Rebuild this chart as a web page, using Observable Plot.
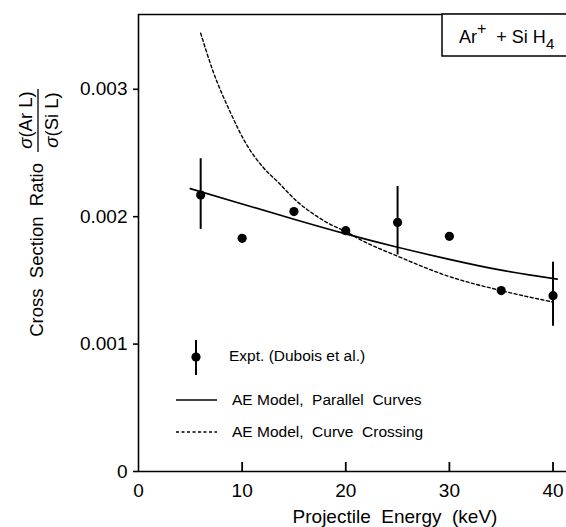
<!DOCTYPE html>
<html>
<head>
<meta charset="utf-8">
<script src="https://cdn.jsdelivr.net/npm/d3@7"></script>
<script src="https://cdn.jsdelivr.net/npm/@observablehq/plot@0.6"></script>
<style>
  html, body { margin: 0; padding: 0; background: white; }
  svg { display: block; }
</style>
</head>
<body>
<div id="chart"></div>
<script>
// Experimental points (Dubois et al.)
const exptEnergy = [6, 10, 15, 20, 25, 30, 35, 40];
const exptRatio  = [0.00217, 0.00183, 0.00204, 0.00189, 0.001955, 0.001846, 0.00142, 0.00138];
// Error bars (only some points)
const errEnergy = [6, 25, 40];
const errLow    = [0.00190, 0.00170, 0.00114];
const errHigh   = [0.002455, 0.002237, 0.001643];
// AE Model, Parallel Curves (solid)
const parEnergy = [5, 10, 15, 20, 25, 30, 35, 40.4];
const parRatio  = [0.00222, 0.00210, 0.00198, 0.001865, 0.00176, 0.001665, 0.00158, 0.00151];
// AE Model, Curve Crossing (dashed)
const crossEnergy = [6, 7.2, 8.8, 10.4, 12, 13.6, 15.3, 16.9, 18.5, 20.1, 21.4, 25, 30, 35, 40];
const crossRatio  = [0.00344, 0.00314, 0.00283, 0.00257, 0.00239, 0.00226, 0.00212, 0.00202, 0.00194, 0.00188, 0.00182, 0.00169, 0.00153, 0.00142, 0.00133];
// Axes
const xTicks = [0, 10, 20, 30, 40];
const yTicks = [0, 0.001, 0.002, 0.003];
const xDomain = [0, 41.3];
const yDomain = [0, 0.003587];
// Texts
const xLabel = "Projectile  Energy  (keV)";
const yLabel = "Cross  Section  Ratio";
const fracNum = ["σ", "(Ar L)"];
const fracDen = ["σ", "(Si L)"];
const legendLabels = ["Expt. (Dubois et al.)", "AE Model,  Parallel  Curves", "AE Model,  Curve  Crossing"];

const expt = exptEnergy.map((x, i) => ({x, y: exptRatio[i]}));
const errs = errEnergy.map((x, i) => ({x, lo: errLow[i], hi: errHigh[i]}));
const par = parEnergy.map((x, i) => ({x, y: parRatio[i]}));
const cross = crossEnergy.map((x, i) => ({x, y: crossRatio[i]}));

const font = "'Liberation Sans', Arial, Helvetica, sans-serif";

const W = 566, H = 527, mT = 14, mB = 56;
// inward x-tick length: 9 px expressed in y units
const tickLen = 9 * (yDomain[1] - yDomain[0]) / (H - mT - mB);

const chart = Plot.plot({
  width: W,
  height: H,
  marginLeft: 138,
  marginRight: 0,
  marginTop: mT,
  marginBottom: mB,
  x: {domain: xDomain},
  y: {domain: yDomain},
  style: {fontFamily: font, fontSize: "19px", color: "black", background: "white", overflow: "visible"},
  marks: [
    Plot.axisY({ticks: yTicks, tickFormat: d => d === 0 ? "0" : d.toFixed(3), tickSize: 5, tickPadding: 6, label: null, fontSize: 19, strokeWidth: 1.6}),
    Plot.axisX({ticks: xTicks, tickSize: 0, tickPadding: 12, label: null, fontSize: 19}),
    Plot.ruleX(xTicks.slice(1), {x: d => d, y1: d => yDomain[0], y2: d => yDomain[0] + tickLen, stroke: "black", strokeWidth: 1.8}),
    Plot.ruleY([yDomain[0]], {stroke: "black", strokeWidth: 1.6}),
    Plot.ruleY([yDomain[1]], {stroke: "black", strokeWidth: 1.6}),
    Plot.ruleX([xDomain[0]], {stroke: "black", strokeWidth: 1.6}),
    Plot.line(par, {x: "x", y: "y", curve: "natural", stroke: "black", strokeWidth: 1.7}),
    Plot.line(cross, {x: "x", y: "y", curve: "monotone-x", stroke: "black", strokeWidth: 1.4, strokeDasharray: "3,2.5"}),
    Plot.ruleX(errs, {x: "x", y1: "lo", y2: "hi", stroke: "black", strokeWidth: 2}),
    Plot.dot(expt, {x: "x", y: "y", r: 4.6, fill: "black", stroke: "none"})
  ]
});

document.getElementById("chart").appendChild(chart);

const svg = d3.select(chart);
const g = svg.append("g").attr("font-family", font).attr("fill", "black").attr("text-anchor", "start");

// X label
g.append("text").attr("x", 395).attr("y", 523).attr("text-anchor", "middle")
  .attr("font-size", 19).style("white-space", "pre").text(xLabel);

// Y label (rotated)
g.append("text").attr("transform", "translate(43,163) rotate(-90)")
  .attr("text-anchor", "end").attr("font-size", 18.5).style("white-space", "pre").text(yLabel);
const num = g.append("text").attr("transform", "translate(32,120) rotate(-90)")
  .attr("text-anchor", "middle").attr("font-size", 18.5);
num.append("tspan").attr("font-style", "italic").text(fracNum[0]);
num.append("tspan").text(fracNum[1]);
g.append("line").attr("x1", 38).attr("x2", 38).attr("y1", 89).attr("y2", 152)
  .attr("stroke", "black").attr("stroke-width", 1.3);
const den = g.append("text").attr("transform", "translate(58,120) rotate(-90)")
  .attr("text-anchor", "middle").attr("font-size", 18.5);
den.append("tspan").attr("font-style", "italic").text(fracDen[0]);
den.append("tspan").text(fracDen[1]);

// Reaction box
g.append("rect").attr("x", 442).attr("y", 14).attr("width", 140).attr("height", 42)
  .attr("fill", "white").attr("stroke", "black").attr("stroke-width", 1.5);
const rt = g.append("text").attr("x", 459).attr("y", 43).attr("font-size", 18).attr("text-anchor", "start");
rt.append("tspan").text("Ar");
rt.append("tspan").attr("dy", -9).attr("font-size", 16).text("+");
rt.append("tspan").attr("dy", 9).style("white-space", "pre").text("  + Si H");
rt.append("tspan").attr("dy", 6).attr("font-size", 15).text("4");

// Legend
const lg = g.append("g").attr("text-anchor", "start");
lg.append("line").attr("x1", 196).attr("x2", 196).attr("y1", 340).attr("y2", 375)
  .attr("stroke", "black").attr("stroke-width", 2);
lg.append("circle").attr("cx", 196).attr("cy", 357).attr("r", 4.6);
lg.append("text").attr("x", 229).attr("y", 361).attr("font-size", 15.5).text(legendLabels[0]);
lg.append("line").attr("x1", 176).attr("x2", 217).attr("y1", 400).attr("y2", 400)
  .attr("stroke", "black").attr("stroke-width", 1.7);
lg.append("text").attr("x", 232).attr("y", 405).attr("font-size", 15.5).style("white-space", "pre").text(legendLabels[1]);
lg.append("line").attr("x1", 176).attr("x2", 217).attr("y1", 432).attr("y2", 432)
  .attr("stroke", "black").attr("stroke-width", 1.4).attr("stroke-dasharray", "3,2.5");
lg.append("text").attr("x", 232).attr("y", 437).attr("font-size", 15.5).style("white-space", "pre").text(legendLabels[2]);
</script>
</body>
</html>
